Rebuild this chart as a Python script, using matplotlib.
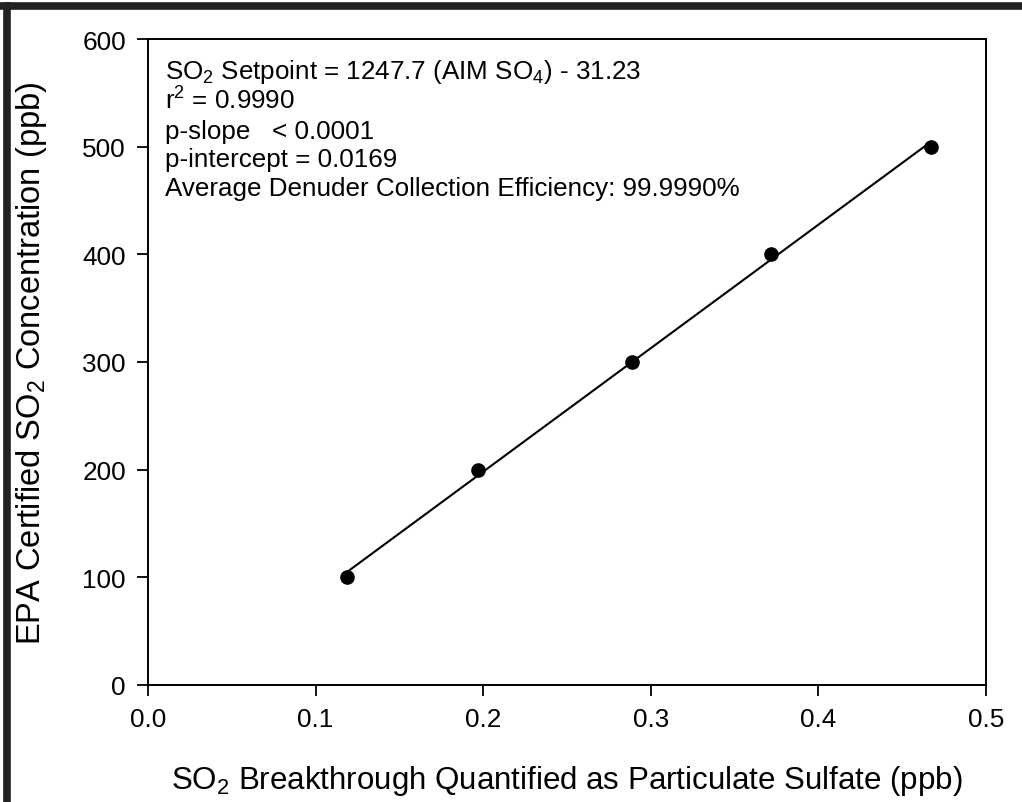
import matplotlib
matplotlib.use("Agg")
import matplotlib.pyplot as plt
from matplotlib.lines import Line2D
import numpy as np

plt.rcParams["font.family"] = ["Liberation Sans", "DejaVu Sans"]
plt.rcParams["mathtext.fontset"] = "custom"
plt.rcParams["mathtext.rm"] = "Liberation Sans"
plt.rcParams["mathtext.it"] = "Liberation Sans:italic"
plt.rcParams["mathtext.bf"] = "Liberation Sans:bold"
plt.rcParams["mathtext.default"] = "regular"

# SO2 breakthrough (x, ppb particulate sulfate) vs certified SO2 setpoint (y, ppb)
breakthrough = [0.119, 0.197, 0.289, 0.372, 0.467]
setpoint = [100, 200, 300, 400, 500]

x_ticks = [0.0, 0.1, 0.2, 0.3, 0.4, 0.5]
y_ticks = [0, 100, 200, 300, 400, 500, 600]

stats_lines = [
    r"SO$_2$ Setpoint = 1247.7 (AIM SO$_4$) - 31.23",
    r"r$^2$ = 0.9990",
    "p-slope   < 0.0001",
    "p-intercept = 0.0169",
    "Average Denuder Collection Efficiency: 99.9990%",
]

fig = plt.figure(figsize=(10.22, 8.03), dpi=100)
ax = fig.add_axes([148 / 1022, 1 - 686 / 803, 838 / 1022, 646 / 803])

x = np.array(breakthrough)
y = np.array(setpoint)
slope, icept = np.polyfit(x, y, 1)
xx = np.array([x.min(), x.max()])
ax.plot(xx, slope * xx + icept, color="black", linewidth=1.5, zorder=2)
ax.plot(x, y, "o", color="black", markersize=9.5, zorder=3)

ax.set_xlim(0, 0.5)
ax.set_ylim(0, 600)
ax.set_xticks(x_ticks)
ax.set_xticklabels([f"{v:.1f}" for v in x_ticks])
ax.set_yticks(y_ticks)
ax.tick_params(direction="out", length=8, width=1.3, labelsize=18.8,
               top=False, right=False, pad=8)
for s in ax.spines.values():
    s.set_linewidth(1.4)

ax.set_xlabel(r"SO$_2$ Breakthrough Quantified as Particulate Sulfate (ppb)",
              fontsize=22.5, labelpad=23)
ax.set_ylabel(r"EPA Certified SO$_2$ Concentration (ppb)", fontsize=23.5,
              labelpad=24)

line_y = [79, 110, 139, 167, 196]
for txt, py in zip(stats_lines, line_y):
    ax.text((165 - 148) / 838, (686 - py) / 646, txt, transform=ax.transAxes,
            fontsize=18.7, va="baseline", ha="left")

# partial figure frame (top and left edges only)
fig.add_artist(Line2D([0, 1], [1 - 7 / 803, 1 - 7 / 803],
                      transform=fig.transFigure, color="#222222", linewidth=5.5))
fig.add_artist(Line2D([7 / 1022, 7 / 1022], [0, 1 - 7 / 803],
                      transform=fig.transFigure, color="#222222", linewidth=5.5))

fig.savefig("out.png", dpi=100)
